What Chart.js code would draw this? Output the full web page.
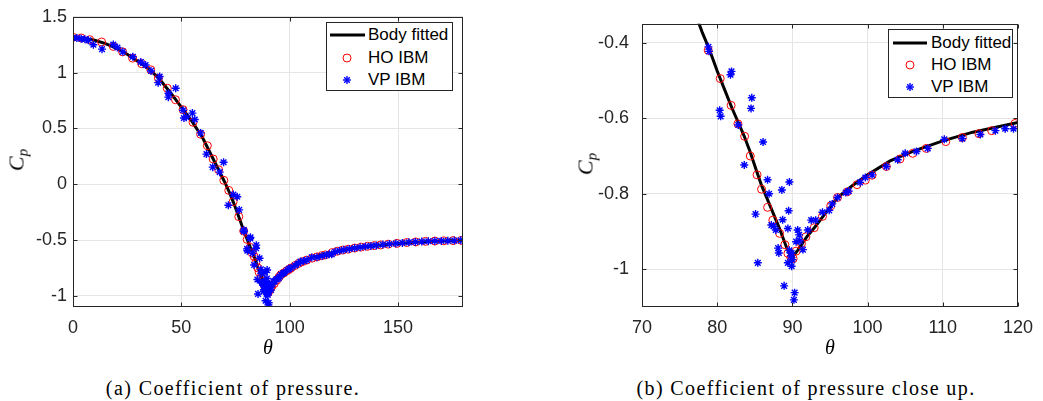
<!DOCTYPE html>
<html>
<head>
<meta charset="utf-8">
<script src="https://cdn.jsdelivr.net/npm/chart.js@4.4.1/dist/chart.umd.min.js"></script>
<style>
html,body{margin:0;padding:0;background:#fff;}
body{width:1043px;height:401px;position:relative;overflow:hidden;}
.panel{position:absolute;top:0;}
.legend{position:absolute;box-sizing:border-box;border:1px solid #262626;background:#fff;}
.legend span{position:absolute;font-family:'Liberation Sans',Arial,Helvetica,sans-serif;font-size:17px;line-height:20px;color:#000;white-space:nowrap;}
.legend svg{position:absolute;left:0;top:0;}
.ylab{position:absolute;transform:translate(-50%,-50%) rotate(-90deg);font-family:'Liberation Serif','Times New Roman',serif;font-style:italic;font-size:22px;color:#000;white-space:nowrap;line-height:1;}
.ylab sub{font-size:15px;vertical-align:-4px;}
.cap{position:absolute;transform:translateX(-50%);font-family:'Liberation Serif','Times New Roman',serif;font-size:20px;letter-spacing:1.4px;color:#000;white-space:nowrap;line-height:1;}
</style>
</head>
<body>
<div class="panel" style="left:0;width:520px;height:361px"><canvas id="cA" width="520" height="361"></canvas></div>
<div class="panel" style="left:560px;width:483px;height:361px"><canvas id="cB" width="483" height="361"></canvas></div>
<div class="ylab" style="left:18px;top:160px">C<sub>p</sub></div>
<div class="ylab" style="left:587px;top:164px">C<sub>p</sub></div>
<div class="cap" style="left:233px;top:378px">(a) Coefficient of pressure.</div>
<div class="cap" style="left:806px;top:378px">(b) Coefficient of pressure close up.</div>
<div id="legA" class="legend" style="left:326px;top:22px;width:127px;height:69px"></div>
<div id="legB" class="legend" style="left:888px;top:29px;width:125px;height:69px"></div>
<script>
// ---------------- data ----------------
const seriesNames = ['Body fitted', 'HO IBM', 'VP IBM'];

// Body fitted solution: [theta, Cp]
const bodyFitted = [
  [0,1.315],[5,1.308],[10,1.29],[15,1.26],[20,1.22],[25,1.165],[30,1.1],[35,1.035],[40,0.94],[45,0.82],
  [50,0.69],[55,0.56],[60,0.41],[65,0.215],[70,0.02],[72,-0.065],[74,-0.16],[76,-0.265],[78,-0.372],[79,-0.42],
  [80,-0.475],[81,-0.525],[82,-0.575],[83,-0.62],[83.6,-0.648],[84.4,-0.69],[85.2,-0.738],[85.9,-0.778],[87,-0.83],[88.3,-0.893],
  [89.2,-0.941],[89.85,-0.971],[90.7,-0.95],[92,-0.912],[93,-0.888],[94,-0.862],[96,-0.81],[98,-0.778],[100,-0.75],[103,-0.713],
  [106,-0.688],[110,-0.66],[114,-0.637],[120,-0.611],[130,-0.572],[140,-0.549],[150,-0.53],[160,-0.517],[170,-0.509],[180,-0.503]
];

// HO IBM: [theta, Cp]
const hoIBM = [
  [0,1.316],[3.8,1.31],[7.7,1.295],[13.2,1.274],[18.6,1.235],[22.9,1.186],[27.5,1.13],[31.7,1.08],[35.9,1.025],[39.4,0.95],
  [43.5,0.86],[47.3,0.757],[50.8,0.668],[55.4,0.555],[58.9,0.448],[62,0.345],[64.7,0.226],[67.2,0.13],[69.6,0.035],[71.9,-0.055],
  [73.9,-0.157],[76.5,-0.29],[78.8,-0.42],[80.4,-0.495],[81.85,-0.566],[82.75,-0.615],[83.65,-0.648],[84.4,-0.70],[85.3,-0.75],[85.9,-0.788],
  [86.7,-0.836],[87.4,-0.87],[88.3,-0.905],[89,-0.935],[89.4,-0.958],[89.8,-0.97],[90.1,-0.972],[90.5,-0.952],[91.2,-0.932],[91.8,-0.914],
  [92.9,-0.89],[94,-0.86],[95.1,-0.832],[96,-0.81],[97.3,-0.795],[98.6,-0.776],[99.7,-0.764],[100.6,-0.751],[102.5,-0.728],[104.3,-0.708],
  [106,-0.693],[107.8,-0.68],[110.4,-0.662],[112.6,-0.651],[114.8,-0.641],[116.5,-0.633],[119.6,-0.614],[122,-0.6],[124.5,-0.59],[127,-0.582],
  [130,-0.572],[133,-0.563],[136,-0.556],[139,-0.55],[142,-0.544],[145.5,-0.537],[149.5,-0.53],[154,-0.522],[158.2,-0.517],[162.7,-0.512],
  [167,-0.509],[171.2,-0.507],[175.4,-0.505],[179.2,-0.503]
];

// VP IBM: [theta, Cp]
const vpIBM = [
  [0,1.312],[1.8,1.31],[3.8,1.303],[5.5,1.298],[7.1,1.289],[9.4,1.25],[13.4,1.21],[18.6,1.252],[20.5,1.225],[23,1.186],
  [27.6,1.142],[31.3,1.095],[33.5,1.068],[36,1.015],[39.3,0.91],[40,0.965],[44,0.78],[44.1,0.815],[47.4,0.86],[50.8,0.663],
  [51.2,0.593],[52.3,0.6],[55.1,0.637],[56.2,0.58],[58.9,0.46],[61.6,0.27],[64.5,0.153],[67.7,0.108],[69.5,0.197],[71.7,-0.188],
  [74,-0.092],[75.8,-0.112],[76.7,-0.23],[78.83,-0.411],[78.92,-0.423],[80.33,-0.579],[80.46,-0.595],[81.77,-0.485],[81.9,-0.476],[82.8,-0.618],
  [83.6,-0.724],[84.5,-0.574],[84.6,-0.546],[85.1,-0.854],[85.4,-0.983],[86.1,-0.663],[86.7,-0.763],[86.9,-0.8],[87.2,-0.883],[87.5,-0.886],
  [87.8,-0.896],[88.1,-0.944],[88.2,-0.957],[88.6,-0.79],[88.7,-0.869],[88.9,-1.044],[89.4,-0.892],[89.4,-0.983],[89.5,-0.845],[89.6,-0.769],
  [89.6,-0.95],[89.8,-0.965],[89.9,-0.957],[89.9,-0.992],[90,-0.975],[90.2,-1.081],[90.3,-1.062],[90.5,-0.927],[90.7,-0.896],[90.9,-0.909],
  [91,-0.925],[91.4,-0.948],[92.05,-0.896],[92.5,-0.87],[93.1,-0.87],[94,-0.849],[94.9,-0.844],[95.3,-0.827],[96,-0.81],[97.1,-0.797],
  [97.5,-0.793],[99,-0.77],[99.7,-0.757],[100.6,-0.75],[102.5,-0.728],[104,-0.71],[105,-0.693],[106.5,-0.688],[108,-0.68],[110.2,-0.656],
  [112.6,-0.654],[115,-0.643],[117,-0.633],[118.3,-0.628],[119.4,-0.628],[121,-0.605],[123,-0.596],[125,-0.588],[127.5,-0.58],[130,-0.572],
  [132.5,-0.565],[135,-0.558],[137.5,-0.553],[140,-0.548],[143,-0.541],[146,-0.536],[149,-0.531],[152,-0.526],[155,-0.521],[158,-0.517],
  [161,-0.514],[164,-0.511],[167,-0.509],[170,-0.508],[173,-0.506],[176,-0.505],[179,-0.503]
];

// axis ticks
const xTicksA = [0, 50, 100, 150];
const yTicksA = [1.5, 1, 0.5, 0, -0.5, -1];
const xTicksB = [70, 80, 90, 100, 110, 120];
const yTicksB = [-0.4, -0.6, -0.8, -1];
const xRangeA = [0, 180], yRangeA = [-1.1, 1.5];
const xRangeB = [70, 120], yRangeB = [-1.1, -0.35];

// ---------------- styling / helpers ----------------
const AX = '#262626';
const GRID = '#e5e5e5';
const SANS = "'Liberation Sans', Arial, Helvetica, sans-serif";
const SERIF = "'Liberation Serif', 'Times New Roman', serif";

function toXY(arr) { return arr.map(p => ({ x: p[0], y: p[1] })); }
function fmt(v) { let r = Math.round(v * 10) / 10; if (Object.is(r, -0)) r = 0; return String(r); }

const framePlugin = {
  id: 'frame',
  afterDraw(chart) {
    const { ctx, chartArea: a, scales: { x, y } } = chart;
    ctx.save();
    ctx.strokeStyle = AX; ctx.lineWidth = 1;
    const L = Math.round(a.left) + 0.5, R = Math.round(a.right) - 0.5;
    const T = Math.round(a.top) + 0.5, B = Math.round(a.bottom) - 0.5;
    ctx.strokeRect(L, T, R - L, B - T);
    const tl = 4;
    ctx.beginPath();
    x.ticks.forEach(t => {
      const px = Math.round(x.getPixelForValue(t.value)) + 0.5;
      ctx.moveTo(px, B); ctx.lineTo(px, B - tl);
      ctx.moveTo(px, T); ctx.lineTo(px, T + tl);
    });
    y.ticks.forEach(t => {
      const py = Math.round(y.getPixelForValue(t.value)) + 0.5;
      ctx.moveTo(L, py); ctx.lineTo(L + tl, py);
      ctx.moveTo(R, py); ctx.lineTo(R - tl, py);
    });
    ctx.stroke();
    ctx.restore();
  }
};

function makeChart(canvasId, xr, yr, xt, yt, yWidth, yPad, pad) {
  return new Chart(document.getElementById(canvasId), {
    type: 'scatter',
    data: {
      datasets: [
        { label: seriesNames[2], data: toXY(vpIBM), pointStyle: 'star', pointRadius: 4, pointBorderColor: '#0000ff',
          pointBackgroundColor: '#0000ff', pointBorderWidth: 1.4, showLine: false },
        { label: seriesNames[1], data: toXY(hoIBM), pointStyle: 'circle', pointRadius: 4, pointBorderColor: '#ff0000',
          pointBackgroundColor: 'rgba(0,0,0,0)', pointBorderWidth: 1, showLine: false },
        { label: seriesNames[0], data: toXY(bodyFitted), showLine: true, borderColor: '#000000', borderWidth: 3,
          pointRadius: 0, tension: 0, fill: false }
      ]
    },
    options: {
      responsive: false, animation: false, devicePixelRatio: 1,
      layout: { padding: pad },
      plugins: { legend: { display: false }, tooltip: { enabled: false } },
      events: [],
      scales: {
        x: {
          type: 'linear', min: xr[0], max: xr[1],
          afterBuildTicks: s => { s.ticks = xt.map(v => ({ value: v })); },
          afterFit: s => { s.height = 54; },
          grid: { color: GRID, lineWidth: 1, drawTicks: false },
          border: { display: false },
          ticks: { font: { family: SANS, size: 18 }, color: AX, padding: 10, maxRotation: 0, autoSkip: false, callback: v => fmt(v) },
          title: { display: true, text: 'θ', font: { family: SERIF, style: 'italic', size: 20 }, color: '#000', padding: 0 }
        },
        y: {
          type: 'linear', min: yr[0], max: yr[1],
          afterBuildTicks: s => { s.ticks = yt.map(v => ({ value: v })); },
          afterFit: s => { s.width = yWidth; },
          grid: { color: GRID, lineWidth: 1, drawTicks: false },
          border: { display: false },
          ticks: { font: { family: SANS, size: 18 }, color: AX, padding: yPad, autoSkip: false, callback: v => fmt(v) }
        }
      }
    },
    plugins: [framePlugin]
  });
}

makeChart('cA', xRangeA, yRangeA, xTicksA, yTicksA, 73, 6, { left: 0, top: 13, right: 57, bottom: 0 });
makeChart('cB', xRangeB, yRangeB, xTicksB, yTicksB, 82, 13, { left: 0, top: 20, right: 20, bottom: 0 });

// ---------------- legends ----------------
function buildLegend(id, g) {
  const el = document.getElementById(id);
  const ns = 'http://www.w3.org/2000/svg';
  const svg = document.createElementNS(ns, 'svg');
  svg.setAttribute('width', g.w); svg.setAttribute('height', g.h);
  const line = document.createElementNS(ns, 'line');
  line.setAttribute('x1', g.lx1); line.setAttribute('x2', g.lx2);
  line.setAttribute('y1', g.rows[0]); line.setAttribute('y2', g.rows[0]);
  line.setAttribute('stroke', '#000'); line.setAttribute('stroke-width', 3);
  svg.appendChild(line);
  const c = document.createElementNS(ns, 'circle');
  c.setAttribute('cx', g.mx); c.setAttribute('cy', g.rows[1]); c.setAttribute('r', 4);
  c.setAttribute('fill', 'none'); c.setAttribute('stroke', '#ff0000'); c.setAttribute('stroke-width', 1);
  svg.appendChild(c);
  const r = 4, cy = g.rows[2];
  for (let k = 0; k < 4; k++) {
    const ang = k * Math.PI / 4;
    const l = document.createElementNS(ns, 'line');
    l.setAttribute('x1', g.mx - r * Math.cos(ang)); l.setAttribute('y1', cy - r * Math.sin(ang));
    l.setAttribute('x2', g.mx + r * Math.cos(ang)); l.setAttribute('y2', cy + r * Math.sin(ang));
    l.setAttribute('stroke', '#0000ff'); l.setAttribute('stroke-width', 1.4);
    svg.appendChild(l);
  }
  el.appendChild(svg);
  seriesNames.forEach((name, i) => {
    const s = document.createElement('span');
    s.textContent = name;
    s.style.left = g.tx + 'px';
    s.style.top = (g.rows[i] - 10) + 'px';
    el.appendChild(s);
  });
}
buildLegend('legA', { w: 125, h: 67, lx1: 3, lx2: 38, mx: 20, tx: 41, rows: [12, 35, 57] });
buildLegend('legB', { w: 123, h: 67, lx1: 4, lx2: 38, mx: 21, tx: 42, rows: [13, 35, 57] });
</script>
</body>
</html>
